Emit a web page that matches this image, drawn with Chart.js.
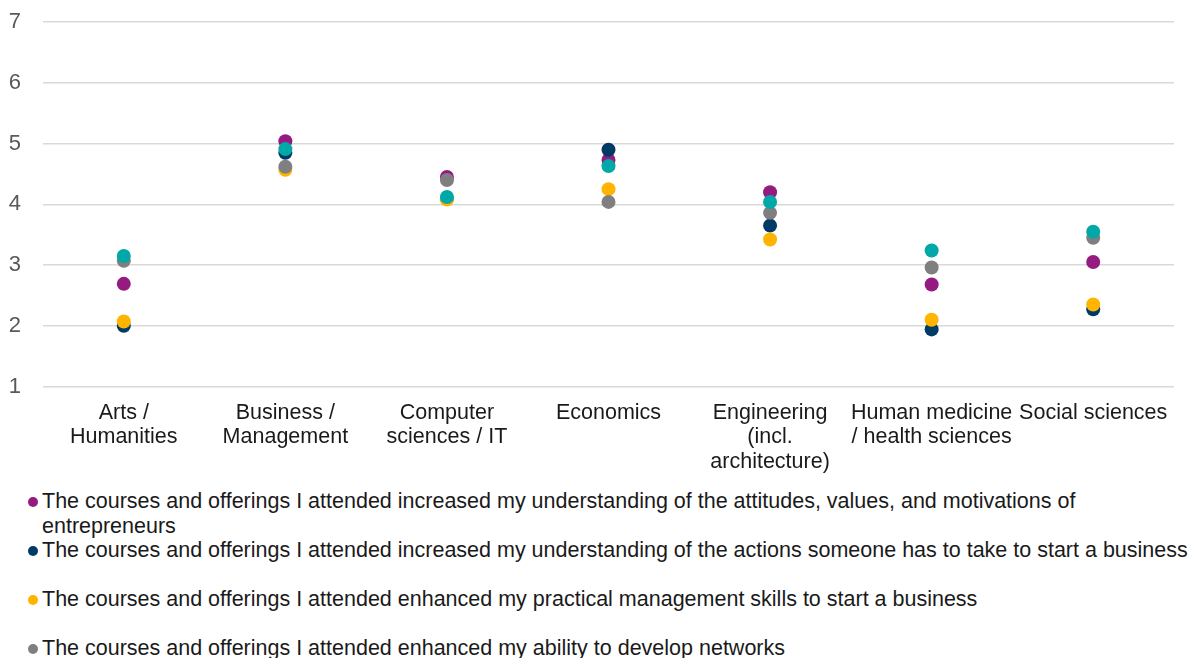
<!DOCTYPE html>
<html>
<head>
<meta charset="utf-8">
<script src="https://cdn.jsdelivr.net/npm/chart.js@4.4.1/dist/chart.umd.min.js"></script>
<style>
  html, body { margin: 0; padding: 0; background: #fff; overflow: hidden; }
  body { width: 1200px; height: 658px; font-family: "Liberation Sans", Arial, sans-serif; position: relative; }
  #wrap { position: absolute; left: 0; top: -13px; width: 1200px; height: 493px; }
  #legenda { position: absolute; left: 28px; top: 489px; width: 1172px; }
  .item { display: flex; align-items: flex-start; height: 49px; font-size: 21.5px; line-height: 25px; color: #1a1a1a; }
  .item span.ponto { flex: none; width: 10px; height: 10px; border-radius: 50%; margin: 8px 4px 0 0; }
</style>
</head>
<body>
<div id="wrap"><canvas id="graficoPontos"></canvas></div>
<div id="legenda"></div>
<script>
const categorias = [
  ["Arts /", "Humanities"],
  ["Business /", "Management"],
  ["Computer", "sciences / IT"],
  "Economics",
  ["Engineering", "(incl.", "architecture)"],
  ["Human medicine", "/ health sciences"],
  "Social sciences"
];

const nomesSeries = [
  "The courses and offerings I attended increased my understanding of the attitudes, values, and motivations of entrepreneurs",
  "The courses and offerings I attended increased my understanding of the actions someone has to take to start a business",
  "The courses and offerings I attended enhanced my practical management skills to start a business",
  "The courses and offerings I attended enhanced my ability to develop networks",
  "The courses and offerings I attended enhanced my ability to identify an opportunity"
];

const atitudes = [2.69, 5.04, 4.45, 4.73, 4.20, 2.68, 3.05];
const acoes = [2.00, 4.85, 4.09, 4.90, 3.65, 1.94, 2.27];
const gestao = [2.07, 4.57, 4.08, 4.25, 3.42, 2.10, 2.35];
const redes = [3.07, 4.62, 4.40, 4.04, 3.86, 2.96, 3.45];
const oportunidade = [3.15, 4.91, 4.12, 4.63, 4.04, 3.24, 3.55];

const valoresSeries = [atitudes, acoes, gestao, redes, oportunidade];
const cores = ["#951b81", "#003a66", "#ffb400", "#7f7f7f", "#00a8a8"];

const datasets = valoresSeries.map((valores, i) => ({
  label: nomesSeries[i],
  data: valores,
  showLine: false,
  pointRadius: 7,
  pointHoverRadius: 7,
  pointBackgroundColor: cores[i],
  pointBorderWidth: 0,
  borderColor: cores[i],
  backgroundColor: cores[i],
  order: valoresSeries.length - i
}));

new Chart(document.getElementById("graficoPontos"), {
  type: "line",
  data: {
    labels: categorias,
    datasets: datasets,
  },
  options: {
    responsive: true,
    maintainAspectRatio: false,
    animation: false,
    layout: { padding: { top: 0, right: 26, left: 0, bottom: 0 } },
    plugins: {
      legend: { display: false },
      tooltip: { enabled: false },
    },
    scales: {
      y: {
        min: 1,
        max: 7,
        ticks: {
          stepSize: 1,
          padding: 22,
          color: "#595959",
          font: { family: "Liberation Sans", size: 22 },
        },
        grid: { color: "#d9d9d9", lineWidth: 1.5, drawTicks: false },
        border: { display: false },
        afterFit: (scale) => { scale.width = 43; },
      },
      x: {
        offset: true,
        ticks: {
          padding: 6,
          color: "#1a1a1a",
          maxRotation: 0,
          autoSkip: false,
          font: { family: "Liberation Sans", size: 21.5, lineHeight: 1.14 },
        },
        grid: { display: false },
        border: { display: false },
      },
    },
  },
});

// legenda em HTML para quebrar o texto longo
const legenda = document.getElementById("legenda");
nomesSeries.forEach((nome, i) => {
  const item = document.createElement("div");
  item.className = "item";
  const ponto = document.createElement("span");
  ponto.className = "ponto";
  ponto.style.background = cores[i];
  const texto = document.createElement("span");
  texto.textContent = nome;
  item.appendChild(ponto);
  item.appendChild(texto);
  legenda.appendChild(item);
});
</script>
</body>
</html>
